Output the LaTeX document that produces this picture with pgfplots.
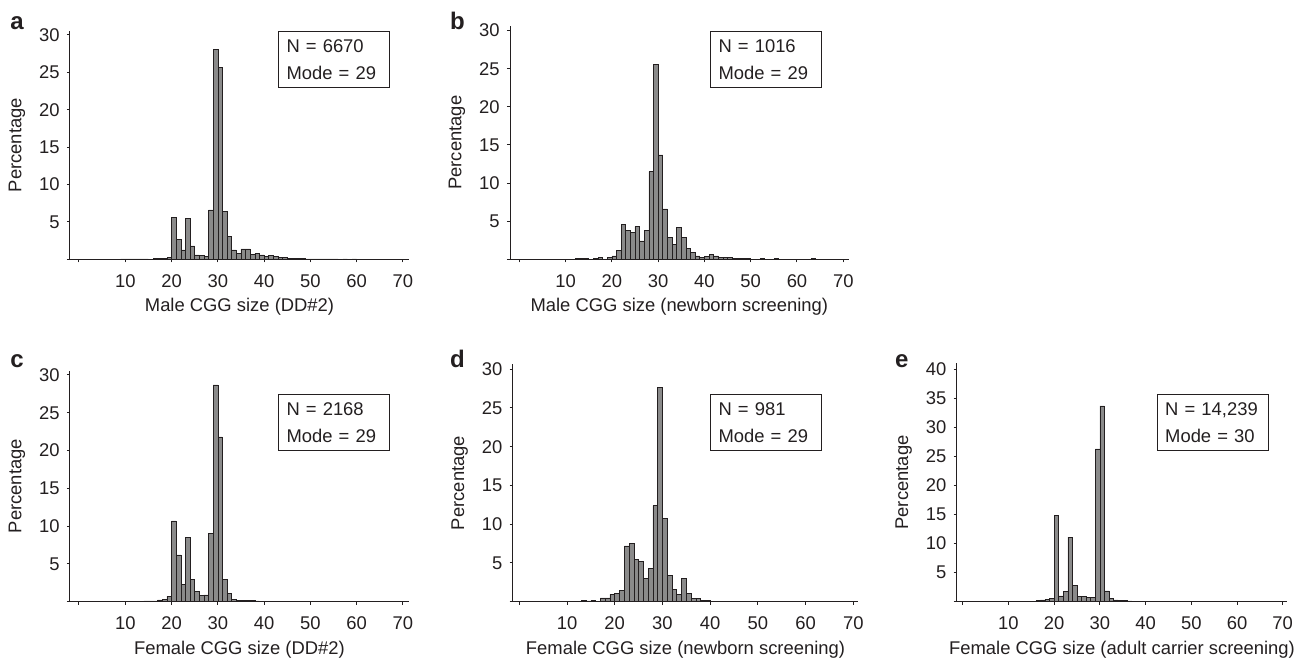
\documentclass[border=0pt]{standalone}
\usepackage{fontspec}
\setmainfont{Liberation Sans}
\usepackage{pgfplots}
\pgfplotsset{compat=1.18}

\definecolor{ink}{RGB}{35,31,32}
\definecolor{barfill}{RGB}{138,138,138}

\pgfplotsset{
  cgg/.style={
    scale only axis,
    anchor=south west,
    axis lines=left,
    axis line style={-, draw=ink, line width=0.5pt},
    tick align=outside,
    major tick length=1.6pt,
    tick style={draw=ink, line width=0.5pt},
    ybar, bar width=1,
    ymin=0,
    xtick={0,10,...,70},
    xticklabels={,10,20,30,40,50,60,70},
    xticklabel style={anchor=base, yshift=-12.5pt},
    yticklabel style={inner xsep=3.4pt},
    ylabel={Percentage},
    every axis y label/.style={at={(axis description cs:0,0.5)}, xshift=-26.5pt, rotate=90, anchor=center},
    every axis x label/.style={at={(axis description cs:0.5,0)}, yshift=-26.2pt, anchor=base},
    x filter/.expression={x+0.5},
  },
  cggbar/.style={fill=barfill, draw=ink, line width=0.3pt},
  y30/.style={ytick={0,5,...,30}, yticklabels={,5,10,15,20,25,30}},
}

\begin{document}
\fontsize{9.2}{11}\selectfont
\begin{tikzpicture}[color=ink]
\useasboundingbox (0,0) rectangle (648.5pt,329pt);

% a: male, DD#2
\begin{axis}[cgg, y30, at={(35pt,199.35pt)}, width=169.5pt, height=114.15pt,
  xmin=-1.94, xmax=71.3, ymax=30.53, xlabel={Male CGG size (DD\#2)}]
\addplot[cggbar] coordinates {
(9,0.05) (10,0.05) (11,0.05) (12,0.05) (13,0.05) (14,0.05) (16,0.1) (17,0.1)
(18,0.15) (19,0.2) (20,5.6) (21,2.7) (22,1.25) (23,5.5) (24,1.8) (25,0.6)
(26,0.5) (27,0.4) (28,6.6) (29,28.1) (30,25.7) (31,6.4) (32,3.1) (33,1.25)
(34,0.8) (35,1.4) (36,1.4) (37,0.7) (38,0.8) (39,0.6) (40,0.35) (41,0.55)
(42,0.4) (43,0.25) (44,0.2) (45,0.15) (46,0.12) (47,0.1) (48,0.08) (49,0.05)
(50,0.05) (51,0.05) (52,0.05) (53,0.05) (54,0.05) (55,0.05) (57,0.05) (59,0.05)};
\end{axis}

% b: male, newborn screening
\begin{axis}[cgg, y30, at={(255pt,199.35pt)}, width=169.35pt, height=116.65pt,
  xmin=-2.0, xmax=71.17, ymax=30.6, xlabel={Male CGG size (newborn screening)}]
\addplot[cggbar] coordinates {
(12,0.1) (13,0.1) (14,0.1) (16,0.1) (17,0.2) (19,0.2) (20,0.45) (21,1.2)
(22,4.6) (23,3.8) (24,3.5) (25,4.3) (26,2.4) (27,3.8) (28,11.5) (29,25.6)
(30,13.7) (31,6.6) (32,2.85) (33,2.0) (34,4.2) (35,2.85) (36,1.45) (37,0.9)
(38,0.45) (39,0.2) (40,0.35) (41,0.6) (42,0.45) (43,0.3) (44,0.2) (45,0.3)
(46,0.1) (47,0.1) (48,0.1) (49,0.1) (52,0.1) (55,0.1) (63,0.1)};
\end{axis}

% c: female, DD#2
\begin{axis}[cgg, y30, at={(35pt,28.15pt)}, width=169.5pt, height=115.5pt,
  xmin=-1.94, xmax=71.3, ymax=30.57, xlabel={Female CGG size (DD\#2)}]
\addplot[cggbar] coordinates {
(9,0.05) (10,0.05) (11,0.05) (14,0.1) (15,0.1) (16,0.1) (17,0.25) (18,0.35)
(19,0.7) (20,10.7) (21,6.2) (22,2.3) (23,8.5) (24,2.9) (25,1.4) (26,0.8)
(27,0.9) (28,9.0) (29,28.7) (30,21.8) (31,2.95) (32,1.1) (33,0.3) (34,0.15)
(35,0.12) (36,0.12) (37,0.12) (38,0.1) (39,0.05) (40,0.05) (42,0.05) (43,0.05)
(44,0.05)};
\end{axis}

% d: female, newborn screening
\begin{axis}[cgg, y30, at={(256.35pt,28.15pt)}, width=172.8pt, height=118.7pt,
  xmin=-1.38, xmax=71.05, ymax=30.64, xlabel={Female CGG size (newborn screening)}]
\addplot[cggbar] coordinates {
(13,0.15) (14,0.1) (15,0.15) (17,0.5) (18,0.5) (19,0.95) (20,1.1) (21,1.5)
(22,7.2) (23,7.5) (24,5.5) (25,5.2) (26,3.0) (27,4.3) (28,12.4) (29,27.7)
(30,10.7) (31,3.4) (32,1.55) (33,0.9) (34,3.0) (35,1.1) (36,0.45) (37,0.45)
(38,0.2) (39,0.2)};
\end{axis}

% e: female, adult carrier screening
\begin{axis}[cgg, at={(478.35pt,28.15pt)}, width=165.3pt, height=119.2pt,
  xmin=-1.31, xmax=71.0, ymax=41.03,
  ytick={0,5,...,40}, yticklabels={,5,10,15,20,25,30,35,40},
  xlabel={Female CGG size (adult carrier screening)}]
\addplot[cggbar] coordinates {
(5,0.05) (6,0.05) (7,0.05) (8,0.05) (9,0.05) (10,0.08) (11,0.08) (12,0.08)
(13,0.08) (14,0.08) (15,0.1) (16,0.2) (17,0.3) (18,0.35) (19,0.5) (20,14.8)
(21,1.0) (22,1.8) (23,11.1) (24,2.8) (25,0.9) (26,0.9) (27,0.8) (28,0.8)
(29,26.3) (30,33.7) (31,1.85) (32,0.6) (33,0.3) (34,0.2) (35,0.25) (36,0.15)
(37,0.1) (38,0.08) (39,0.08) (40,0.05) (41,0.05) (42,0.05) (43,0.05) (44,0.05)
(46,0.05) (47,0.05) (48,0.05) (49,0.05) (50,0.05)};
\end{axis}

% panel letters
\begin{scope}[font=\fontsize{12}{14}\selectfont\bfseries]
\node[anchor=base] at (8.5pt,314pt) {a};
\node[anchor=base] at (228.75pt,314pt) {b};
\node[anchor=base] at (8.5pt,145.35pt) {c};
\node[anchor=base] at (228.75pt,145.35pt) {d};
\node[anchor=base] at (450.85pt,145.35pt) {e};
\end{scope}

% N / mode boxes
\begin{scope}[every node/.style={draw=ink, line width=0.5pt, anchor=north west,
  minimum width=55.5pt, minimum height=28pt, text width=47.5pt, inner xsep=4pt,
  align=left, font=\fontsize{9.2}{13.5}\selectfont}]
\node at (139pt,313.5pt) {N = 6670\\Mode = 29};
\node at (355pt,313.5pt) {N = 1016\\Mode = 29};
\node at (139pt,132pt) {N = 2168\\Mode = 29};
\node at (355pt,132pt) {N = 981\\Mode = 29};
\node at (578.35pt,132pt) {N = 14,239\\Mode = 30};
\end{scope}
\end{tikzpicture}
\end{document}
